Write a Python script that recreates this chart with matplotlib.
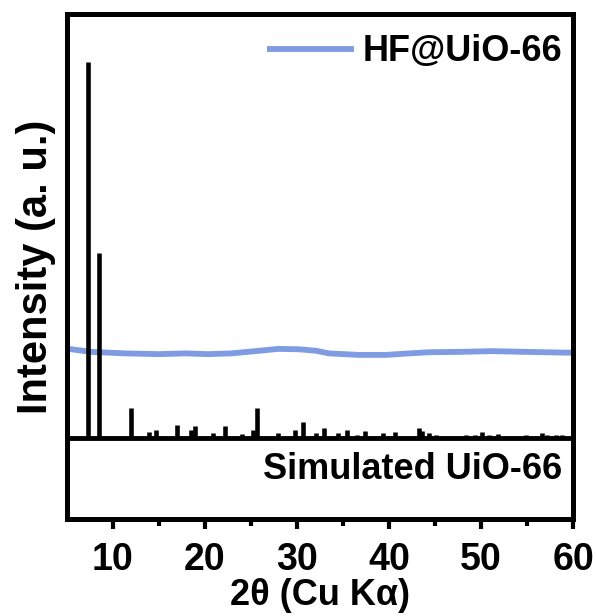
import matplotlib
matplotlib.use("Agg")
import matplotlib.pyplot as plt
from matplotlib.ticker import MultipleLocator

plt.rcParams['font.family'] = ['Liberation Sans', 'DejaVu Sans']
plt.rcParams['font.weight'] = 'bold'

# simulated UiO-66 pattern (2theta, relative intensity)
sim_pos = [7.32, 8.48, 12.03, 14.0, 14.7, 17.0, 18.55, 19.0, 20.9, 22.2,
           24.1, 25.2, 25.7, 28.0, 29.75, 30.65, 32.1, 33.0, 34.5, 35.5,
           36.55, 37.4, 39.35, 40.65, 43.3, 43.55, 44.35, 45.1, 48.35, 49.4,
           50.15, 50.9, 51.8, 54.9, 56.6, 57.2, 58.1, 58.8]
sim_int = [100, 49.2, 7.8, 1.3, 1.9, 3.2, 1.9, 2.9, 1.1, 2.9,
           0.8, 1.9, 7.8, 1.1, 1.9, 4.0, 1.1, 2.4, 1.1, 1.9,
           0.5, 1.6, 1.1, 1.3, 2.4, 1.6, 1.1, 0.5, 0.4, 0.5,
           1.3, 0.5, 0.8, 0.5, 1.1, 0.5, 0.5, 0.5]

# HF@UiO-66 measured pattern
hf_x = [5.2, 7.7, 11.4, 15.0, 17.9, 20.4, 22.9, 25.9, 28.0, 30.2,
        32.1, 33.5, 36.7, 39.7, 42.2, 44.3, 47.6, 51.2, 54.9, 59.2, 60.0]
hf_y = [23.5, 22.7, 22.3, 22.1, 22.3, 22.1, 22.3, 23.0, 23.5, 23.4,
        23.0, 22.3, 21.9, 21.9, 22.3, 22.6, 22.7, 22.9, 22.7, 22.5, 22.5]

fig = plt.figure(figsize=(5.97, 6.16), dpi=100)
ax = fig.add_axes([0.113, 0.1567, 0.847, 0.8198])

ax.plot(hf_x, hf_y, color='#7f9be2', lw=4.2, solid_capstyle='butt', label='HF@UiO-66')
ax.vlines(sim_pos, 0, sim_int, color='black', lw=3.3)
ax.axhline(-0.3, color='black', lw=3.5)

ax.text(0.978, -8.8, 'Simulated UiO-66', transform=ax.get_yaxis_transform(),
        ha='right', va='center', fontsize=26, fontweight='bold')

ax.set_xlim(5.1, 60)
ax.set_ylim(-22, 112.7)
ax.set_yticks([])
ax.xaxis.set_major_locator(MultipleLocator(10))
ax.xaxis.set_minor_locator(MultipleLocator(5))
ax.tick_params(axis='x', which='major', length=7, width=3, labelsize=27, pad=9)
ax.tick_params(axis='x', which='minor', length=5, width=3)
for s in ax.spines.values():
    s.set_linewidth(3.6)

ax.set_xlabel('2θ (Cu Kα)', fontsize=26, fontweight='bold', labelpad=0)
ax.set_ylabel('Intensity (a. u.)', fontsize=30, fontweight='bold', labelpad=8)

ax.legend(loc='center right', bbox_to_anchor=(0.979, 0.926), frameon=False,
          fontsize=26, handlelength=2.4, handletextpad=0.25,
          borderaxespad=0, borderpad=0)

fig.savefig('out.png', dpi=100)
